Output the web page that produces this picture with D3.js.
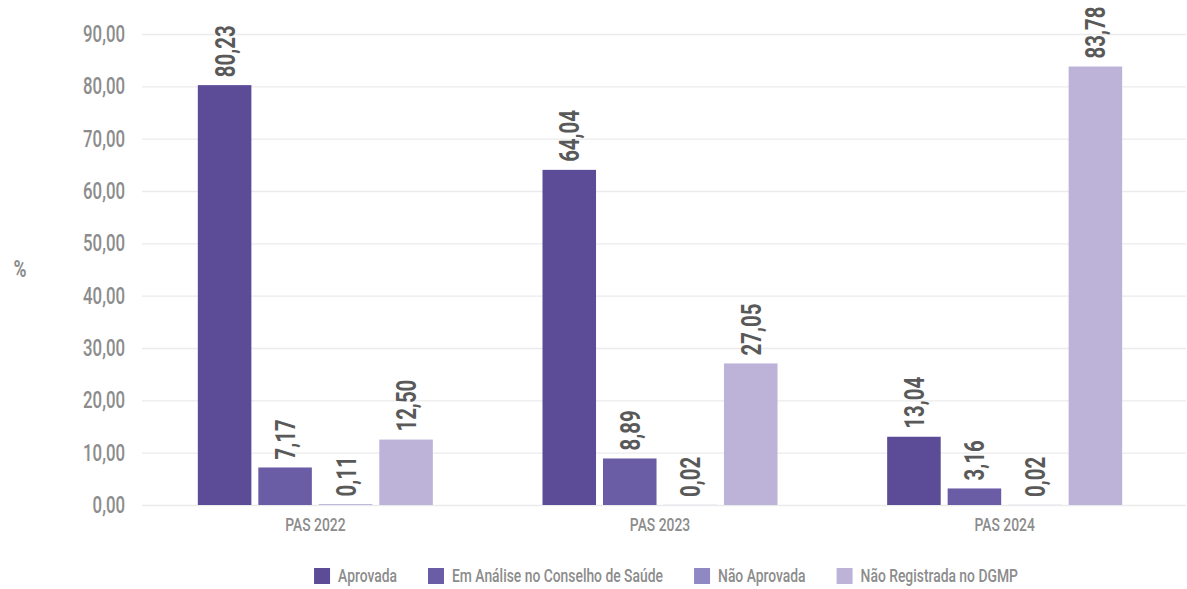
<!DOCTYPE html>
<html lang="pt-BR">
<head>
<meta charset="utf-8">
<script src="https://cdn.jsdelivr.net/npm/d3@7"></script>
<style>
  html, body { margin: 0; padding: 0; background: #ffffff; }
  svg { display: block; font-family: Roboto, "Noto Sans", sans-serif; }
</style>
</head>
<body>
<svg id="chart" width="1187" height="589"></svg>
<script>
// Categories, series and values (percent)
const categories = ["PAS 2022", "PAS 2023", "PAS 2024"];
const seriesNames = ["Aprovada", "Em Análise no Conselho de Saúde", "Não Aprovada", "Não Registrada no DGMP"];
const aprovada = [80.23, 64.04, 13.04];
const emAnalise = [7.17, 8.89, 3.16];
const naoAprovada = [0.11, 0.02, 0.02];
const naoRegistrada = [12.50, 27.05, 83.78];
const yTicks = [0, 10, 20, 30, 40, 50, 60, 70, 80, 90];
const seriesColors = ["#5c4b97", "#6a5ca5", "#9088c2", "#bdb2d8"];

const seriesValues = [aprovada, emAnalise, naoAprovada, naoRegistrada];
const rows = [];
categories.forEach((c, ci) => {
  seriesNames.forEach((s, si) => rows.push({ cat: c, series: s, value: seriesValues[si][ci] }));
});

const fmt = v => d3.format(".2f")(v).replace(".", ",");
const SQ = 0.73; // horizontal squeeze for a condensed look

const svg = d3.select("#chart");
const plotLeft = 142, plotRight = 1186;

const y = d3.scaleLinear().domain([0, 90]).range([505, 34]);
const x0 = d3.scaleBand().domain(categories).range([143, 1177]).padding(0);
const groupW = 235;
const x1 = d3.scaleBand().domain(seriesNames).range([-groupW / 2, groupW / 2]).paddingInner(0.115).paddingOuter(0);
const color = d3.scaleOrdinal().domain(seriesNames).range(seriesColors);

// Y axis with gridlines
const yAxis = svg.append("g")
  .attr("transform", `translate(${plotLeft},0)`)
  .call(d3.axisLeft(y).tickValues(yTicks).tickFormat(fmt)
    .tickSize(-(plotRight - plotLeft)).tickPadding(17));
yAxis.select(".domain").remove();
yAxis.selectAll(".tick line").attr("stroke", "#ebebeb").attr("stroke-width", 1.3);
yAxis.selectAll(".tick text")
  .attr("x", null)
  .attr("transform", `translate(-17,0) scale(${SQ},1)`)
  .attr("fill", "#8c8c8c")
  .attr("font-size", 23)
  .attr("font-weight", 500)
  .attr("font-family", "Roboto, sans-serif");

// Axis title
svg.append("text")
  .attr("transform", `translate(20,277) scale(${SQ},1)`)
  .attr("text-anchor", "middle")
  .attr("fill", "#8c8c8c")
  .attr("font-size", 24)
  .attr("font-weight", 700)
  .text("%");

// Bars
const bars = svg.append("g");
bars.selectAll("rect").data(rows).join("rect")
  .attr("x", d => x0(d.cat) + x0.bandwidth() / 2 + x1(d.series))
  .attr("y", d => y(d.value))
  .attr("width", x1.bandwidth())
  .attr("height", d => y(0) - y(d.value))
  .attr("fill", d => color(d.series));

// Value labels, rotated
svg.append("g").selectAll("text").data(rows).join("text")
  .attr("transform", d => {
    const cx = x0(d.cat) + x0.bandwidth() / 2 + x1(d.series) + x1.bandwidth() / 2;
    return `translate(${cx + 10},${y(d.value) - 8}) rotate(-90) scale(${SQ},1)`;
  })
  .attr("text-anchor", "start")
  .attr("fill", "#595959")
  .attr("font-size", 28)
  .attr("font-weight", 700)
  .text(d => fmt(d.value));

// Category labels
svg.append("g").selectAll("text").data(categories).join("text")
  .attr("transform", d => `translate(${x0(d) + x0.bandwidth() / 2},531) scale(${SQ},1)`)
  .attr("text-anchor", "middle")
  .attr("fill", "#8c8c8c")
  .attr("font-size", 19)
  .attr("font-weight", 500)
  .text(d => d);

// Legend
const legend = svg.append("g");
const items = legend.selectAll("g").data(seriesNames).join("g");
items.append("rect")
  .attr("y", 568).attr("width", 16).attr("height", 16)
  .attr("fill", d => color(d));
items.append("text")
  .attr("fill", "#8c8c8c")
  .attr("font-size", 19)
  .attr("font-weight", 500)
  .text(d => d);

let cursor = 0;
const widths = [];
items.each(function () {
  const t = d3.select(this).select("text");
  widths.push(t.node().getComputedTextLength() * SQ);
});
const total = widths.reduce((a, w) => a + 16 + 8 + w, 0) + 31 * (widths.length - 1);
cursor = 666 - total / 2;
items.each(function (d, i) {
  const g = d3.select(this);
  g.select("rect").attr("x", cursor);
  g.select("text").attr("transform", `translate(${cursor + 24},582) scale(${SQ},1)`);
  cursor += 16 + 8 + widths[i] + 31;
});
</script>
</body>
</html>
